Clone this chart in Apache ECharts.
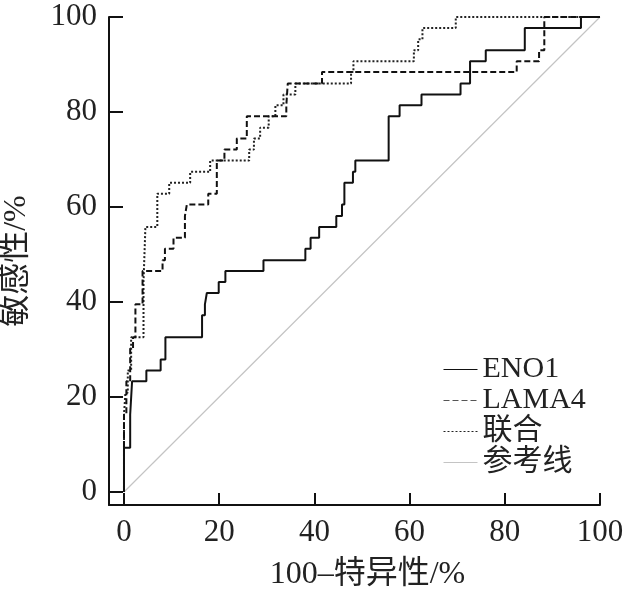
<!DOCTYPE html>
<html>
<head>
<meta charset="utf-8">
<script src="https://cdn.jsdelivr.net/npm/echarts@6/dist/echarts.min.js"></script>
<style>
html,body{margin:0;padding:0;background:#fff;}
#chart{width:629px;height:599px;}
</style>
</head>
<body>
<div id="chart"></div>
<script>
// Tick labels
const xTicks = [0, 20, 40, 60, 80, 100];
const yTicks = [0, 20, 40, 60, 80, 100];

// ENO1: right end of each horizontal run (100-特异性) and its sensitivity level
const enoX = [0,1.3,1.7,4.7,7.7,8.7,16.4,17.0,17.4,19.9,21.3,29.3,38.1,39.2,41.0,44.6,45.8,46.3,48.1,48.6,55.6,57.9,62.5,70.7,72.7,76.0,84.2,96.0,100];
const enoY = [0,9.3,16.3,23.3,25.6,27.9,32.6,37.2,39.5,41.9,44.2,46.5,48.8,51.2,53.5,55.8,58.1,60.5,65.1,67.4,69.8,79.1,81.4,83.7,86.0,90.7,93.0,97.7,100];

// LAMA4
const lamaX = [0,0.5,1.3,1.9,2.4,3.9,8.1,8.6,10.4,12.8,13.2,17.7,19.5,21.1,23.7,25.8,34.1,34.4,41.6,82.5,87.2,88.3,100];
const lamaY = [0,16.3,23.3,30.2,32.6,39.5,46.5,48.8,51.2,53.5,58.1,60.5,62.8,69.8,72.1,74.4,79.1,81.4,86.0,88.4,90.7,93.0,100];

// 联合
const comX = [0,0.3,0.8,1.5,4.1,4.5,7.0,9.5,13.9,18.1,26.3,27.3,28.6,30.4,31.8,33.5,36.0,47.7,48.2,60.9,61.8,62.7,69.7,100];
const comY = [0,16.3,20.9,25.6,32.6,44.2,55.8,62.8,65.1,67.4,69.8,72.1,74.4,76.7,79.1,81.4,83.7,86.0,88.4,90.7,93.0,95.3,97.7,100];

// 参考线
const refX = [0, 100];
const refY = [0, 100];

const names = ['ENO1', 'LAMA4', '联合', '参考线'];

function zip(a, b) { return a.map((v, i) => [v, b[i]]); }

const FONT = '"Liberation Serif", "Noto Sans CJK SC", serif';
const chart = echarts.init(document.getElementById('chart'), null, {renderer: 'canvas'});

const axisCommon = {
  type: 'value',
  max: 100,
  axisLine: {show: true, onZero: false, lineStyle: {color: '#111', width: 2}},
  splitLine: {show: false},
  nameLocation: 'middle',
  nameTextStyle: {fontFamily: FONT, fontSize: 32, color: '#222'}
};

chart.setOption({
  animation: false,
  backgroundColor: '#fff',
  grid: {left: 109, right: 29, top: 17, bottom: 94, containLabel: false, outerBoundsMode: 'none'},
  xAxis: Object.assign({}, axisCommon, {
    min: -3.15,
    name: '100\u2013特异性/%',
    nameGap: 54,
    nameTextStyle: {fontFamily: FONT, fontSize: 32, color: '#222', padding: [0, 0, 0, 26]},
    axisTick: {show: true, inside: true, length: 12, customValues: xTicks, lineStyle: {color: '#111', width: 2}},
    axisLabel: {customValues: xTicks, fontFamily: FONT, fontSize: 31, color: '#222', margin: 12}
  }),
  yAxis: Object.assign({}, axisCommon, {
    min: -2.74,
    name: '敏感性/%',
    nameGap: 76,
    axisTick: {show: true, inside: true, length: 14, customValues: yTicks, lineStyle: {color: '#111', width: 2}},
    axisLabel: {customValues: yTicks, fontFamily: FONT, fontSize: 31, color: '#222', margin: 12}
  }),
  legend: {
    orient: 'vertical',
    left: 443,
    top: 354,
    padding: 0,
    itemGap: 0,
    itemWidth: 34,
    itemHeight: 10,
    textStyle: {fontFamily: FONT, fontSize: 30, color: '#222', lineHeight: 31},
    lineStyle: {width: 1},
    itemStyle: {opacity: 0},
    data: [
      {name: names[0]},
      {name: names[1], lineStyle: {color: '#555'}},
      {name: names[2]},
      {name: names[3]}
    ]
  },
  series: [
    {
      name: names[3], type: 'line', data: zip(refX, refY), symbol: 'none',
      lineStyle: {color: '#c4c4c4', width: 1.2}, itemStyle: {color: '#c4c4c4'}, silent: true
    },
    {
      name: names[2], type: 'line', data: zip(comX, comY), step: 'start', symbol: 'none',
      lineStyle: {color: '#222', width: 2, type: [2, 2]}, itemStyle: {color: '#222'}
    },
    {
      name: names[1], type: 'line', data: zip(lamaX, lamaY), step: 'start', symbol: 'none',
      lineStyle: {color: '#111', width: 2, type: [6, 3]}, itemStyle: {color: '#111'}
    },
    {
      name: names[0], type: 'line', data: zip(enoX, enoY), step: 'start', symbol: 'none',
      lineStyle: {color: '#111', width: 2}, itemStyle: {color: '#111'}
    }
  ]
});
</script>
</body>
</html>
